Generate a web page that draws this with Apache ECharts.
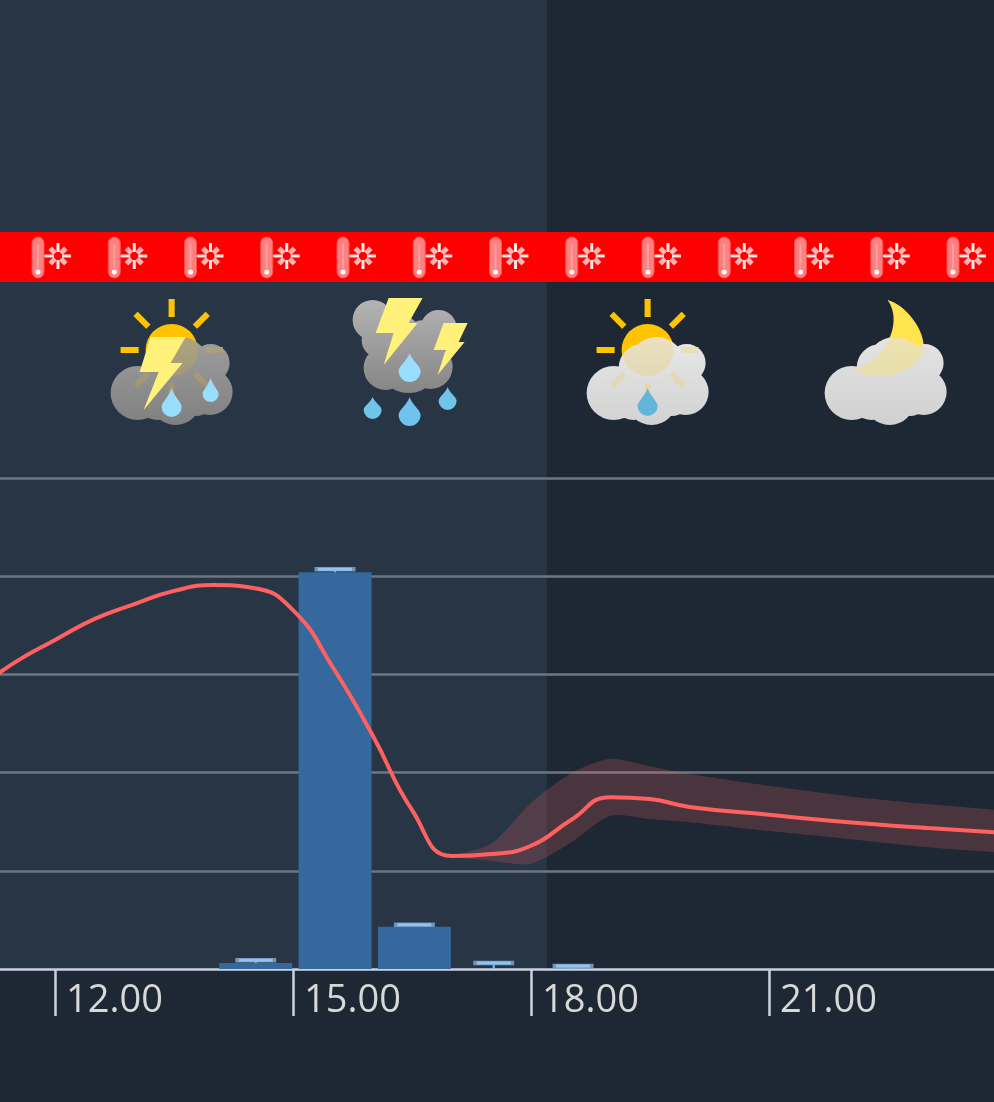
<!DOCTYPE html>
<html>
<head>
<meta charset="utf-8">
<style>
  html, body { margin: 0; padding: 0; background: #1d2834; }
  #chart { width: 994px; height: 1102px; }
</style>
<script src="https://cdn.jsdelivr.net/npm/echarts@6/dist/echarts.min.js"></script>
</head>
<body>
<div id="chart"></div>
<script>
// Hourly forecast: temperature (°C), its uncertainty band, precipitation (mm) and sky symbols.
const tempHours = [11, 11.5, 12, 12.5, 13, 13.5, 14, 14.5, 15, 15.5, 16, 16.5, 17, 17.5, 18, 18.5, 19, 19.5, 20, 21, 22, 23, 24];
const tempValues = [23.68, 24.25, 24.70, 25.13, 25.43, 25.70, 25.82, 25.76, 25.31, 24.15, 22.77, 21.24, 20.30, 20.34, 20.51, 21.03, 21.50, 21.46, 21.30, 21.14, 20.99, 20.87, 20.77];

const bandHours = [17, 17.5, 18, 18.5, 19, 19.5, 20, 21, 22, 23, 24, 25];
const bandHigh = [20.30, 20.55, 21.38, 21.98, 22.28, 22.13, 21.97, 21.73, 21.52, 21.36, 21.22, 21.10];
const bandLow = [20.28, 20.20, 20.14, 20.57, 21.12, 21.05, 20.99, 20.81, 20.65, 20.48, 20.36, 20.24];

const rainHours = [14.53, 15.53, 16.53, 17.53, 18.53];
const rainValues = [0.06, 4.04, 0.43, 0, 0];
const rainMax = [0.09, 4.07, 0.45, 0.06, 0.03];

const symbolHours = [13.47, 16.47, 19.47, 22.47];
const symbolNames = ['sunThunder', 'heavyThunder', 'sunRain', 'moonCloud'];

const dayEndHour = 18.2;
const warningCount = 13;

const COLORS = {
  night: '#1d2834', day: '#273545', grid: '#6e7682', axis: '#c9d1e2', label: '#d6d9d6',
  bar: '#35689c', cap: '#8fc4f5', line: '#ff6060', band: 'rgba(255,100,100,0.2)',
  sun: '#ffc400', bolt: '#fff17a', drop: '#99ddff', dropDark: '#70c3ea', dropMid: '#62b6dc', moon: '#ffe34f'
};

function circlePath(cx, cy, r) {
  return 'M' + (cx - r) + ' ' + cy + 'a' + r + ' ' + r + ' 0 1 0 ' + (2 * r) + ' 0a' + r + ' ' + r + ' 0 1 0 ' + (-2 * r) + ' 0Z';
}
function cloud(circles, top, bottom) {
  return {
    type: 'path',
    shape: { pathData: circles.map(c => circlePath(c[0], c[1], c[2])).join('') },
    style: { fill: { type: 'linear', x: 0, y: 0, x2: 0, y2: 1, colorStops: [{ offset: 0, color: top }, { offset: 1, color: bottom }] } }
  };
}
function bolt(points) {
  return { type: 'polygon', shape: { points: points }, style: { fill: COLORS.bolt } };
}
// Teardrop with its point at (cx, top) and a round belly whose lowest point is at bottom.
function drop(cx, top, bottom, r, color) {
  const cy = bottom - r;
  const d = 'M' + cx + ' ' + top +
    'C' + (cx + r * 0.25) + ' ' + (top + (cy - top) * 0.45) + ' ' + (cx + r) + ' ' + (cy - r * 0.45) + ' ' + (cx + r) + ' ' + cy +
    'A' + r + ' ' + r + ' 0 1 1 ' + (cx - r) + ' ' + cy +
    'C' + (cx - r) + ' ' + (cy - r * 0.45) + ' ' + (cx - r * 0.25) + ' ' + (top + (cy - top) * 0.45) + ' ' + cx + ' ' + top + 'Z';
  return { type: 'path', shape: { pathData: d }, style: { fill: color } };
}
// Sun with eight rays; the opacity lets the same shape glow faintly through a cloud.
function sun(opacity) {
  const cy = -10, parts = [];
  for (let i = 0; i < 8; i++) {
    const a = i * Math.PI / 4, c = Math.cos(a), s = Math.sin(a);
    parts.push({ type: 'line', shape: { x1: 33 * c, y1: cy + 33 * s, x2: 51 * c, y2: cy + 51 * s }, style: { stroke: COLORS.sun, lineWidth: 6, opacity: opacity } });
  }
  parts.push({ type: 'circle', shape: { cx: 0, cy: cy, r: 26 }, style: { fill: COLORS.sun, opacity: opacity } });
  return parts;
}
function moon(opacity) {
  return { type: 'path', shape: { pathData: 'M2 -60C20 -55 40 -30 38 -10C35 10 -5 25 -32 10C-5 5 20 -35 2 -60Z' }, style: { fill: COLORS.moon, opacity: opacity } };
}
const cloudShape = [[-34, 33, 27], [38, 32, 23], [39, 3, 19], [9, 5, 28], [4, 40, 25], [-5, 8, 24], [-5, 25, 30], [-14, 38, 22], [24, 36, 20]];
const stormShape = [[-37, -40, 20], [-30, -20, 18], [29, -32, 18], [-1, 0, 33], [-24, 8, 22], [21, 7, 22], [-12, -22, 24], [14, -18, 22]];

const symbolDrawers = {
  sunThunder: () => sun(1).concat([cloud(cloudShape, '#9e9e9e', '#808080')], sun(0.18), [
    bolt([[-21, -23], [14, -23], [-1, 3], [11, 3], [-28, 50], [-13, 12], [-32, 12]]),
    drop(0, 28, 57, 10, COLORS.drop),
    drop(39, 18, 42, 8, COLORS.drop)
  ]),
  heavyThunder: () => [
    cloud(stormShape, '#b4b4b4', '#858585'),
    bolt([[-21, -62], [13, -62], [-1, -37], [8, -37], [-26, 5], [-16, -27], [-34, -27]]),
    bolt([[34, -37], [58, -37], [49, -18], [55, -18], [28, 15], [36, -10], [24, -10]]),
    drop(0, -7, 22, 11, COLORS.drop),
    drop(-37, 37, 59, 9, COLORS.dropDark),
    drop(0, 37, 66, 11, COLORS.dropDark),
    drop(38, 27, 50, 9, COLORS.dropDark)
  ],
  sunRain: () => sun(1).concat([cloud(cloudShape, '#e8e8e8', '#d2d2d2')], sun(0.18), [
    drop(0, 28, 56, 10, COLORS.dropMid)
  ]),
  moonCloud: () => [moon(1), cloud(cloudShape, '#e4e4e4', '#d0d0d0'), moon(0.35)]
};

// Row of warning badges along the red strip, one thermometer and one snow crystal each.
function warningBadges() {
  const items = [{ type: 'rect', shape: { x: 0, y: 232, width: 994, height: 50 }, style: { fill: '#ff0000' }, z: 10 }];
  for (let i = 0; i < warningCount; i++) {
    const x = 38 + i * 76.25, sx = x + 20, sy = 256;
    items.push({ type: 'rect', shape: { x: x - 6, y: 237, width: 12, height: 41, r: 6 }, style: { fill: '#ff8080', stroke: '#ff5050', lineWidth: 1 }, z: 11 });
    items.push({ type: 'line', shape: { x1: x, y1: 244, x2: x, y2: 268 }, style: { stroke: '#ff9c9c', lineWidth: 2 }, z: 11 });
    items.push({ type: 'circle', shape: { cx: x, cy: 272, r: 2.5 }, style: { fill: '#ffffff' }, z: 11 });
    items.push({ type: 'line', shape: { x1: x + 6, y1: sy, x2: sx - 8, y2: sy }, style: { stroke: '#ff9c9c', lineWidth: 2 }, z: 11 });
    for (let k = 0; k < 8; k++) {
      const a = k * Math.PI / 4, r = k % 2 ? 11 : 13;
      items.push({
        type: 'line',
        shape: { x1: sx + 4 * Math.cos(a), y1: sy + 4 * Math.sin(a), x2: sx + r * Math.cos(a), y2: sy + r * Math.sin(a) },
        style: { stroke: k % 2 ? '#ffb4b4' : '#ffe8e8', lineWidth: k % 2 ? 5 : 3 }, z: 11
      });
    }
  }
  return items;
}

const chart = echarts.init(document.getElementById('chart'), null, { renderer: 'canvas' });

chart.setOption({
  animation: false,
  backgroundColor: COLORS.night,
  graphic: { elements: warningBadges() },
  // The plot runs past both page edges, so the axis range is wider than what is seen.
  grid: { left: -183, right: -13, top: 478, bottom: 133, containLabel: false, outerBoundsMode: 'none' },
  xAxis: {
    type: 'value', min: 9, max: 24, interval: 3,
    axisLine: { show: true, lineStyle: { color: COLORS.axis, width: 2.5 } },
    axisTick: { show: true, length: 47, lineStyle: { color: COLORS.axis, width: 2.5 } },
    splitLine: { show: false },
    axisLabel: {
      show: true, showMinLabel: false, showMaxLabel: false,
      align: 'left', margin: 13, padding: [0, 0, 0, 11],
      fontFamily: 'Open Sans', fontSize: 38, color: COLORS.label,
      formatter: v => String(v).padStart(2, '0') + '.00'
    }
  },
  yAxis: [
    {
      type: 'value', min: 18, max: 28, interval: 2,
      axisLine: { show: false }, axisTick: { show: false }, axisLabel: { show: false },
      splitLine: { show: true, showMinLine: false, lineStyle: { color: COLORS.grid, width: 2.5 } }
    },
    {
      type: 'value', min: 0, max: 5, interval: 1,
      axisLine: { show: false }, axisTick: { show: false }, axisLabel: { show: false },
      splitLine: { show: false }
    }
  ],
  series: [
    {
      // Daylight band reaching from the left edge up to the top of the page.
      type: 'custom', z: -1, silent: true, data: [[dayEndHour, 18]],
      renderItem: (params, api) => {
        const p = api.coord([api.value(0), api.value(1)]);
        return { type: 'rect', shape: { x: 0, y: 0, width: p[0], height: p[1] }, style: { fill: COLORS.day } };
      }
    },
    {
      type: 'bar', yAxisIndex: 1, barWidth: 73, z: 2, silent: true,
      itemStyle: { color: COLORS.bar },
      data: rainHours.map((h, i) => [h, rainValues[i]])
    },
    {
      // Upper error whisker of each precipitation bar.
      type: 'custom', yAxisIndex: 1, z: 3, silent: true,
      data: rainHours.map((h, i) => [h, rainValues[i], rainMax[i]]),
      renderItem: (params, api) => {
        const lo = api.coord([api.value(0), api.value(1)]);
        const hi = api.coord([api.value(0), api.value(2)]);
        return {
          type: 'group',
          children: [
            { type: 'line', shape: { x1: lo[0], y1: lo[1], x2: hi[0], y2: hi[1] }, style: { stroke: COLORS.cap, lineWidth: 2 } },
            { type: 'line', shape: { x1: hi[0] - 20.5, y1: hi[1], x2: hi[0] + 20.5, y2: hi[1] }, style: { stroke: '#6f93b8', lineWidth: 4.5 } },
            { type: 'line', shape: { x1: hi[0] - 17, y1: hi[1], x2: hi[0] + 17, y2: hi[1] }, style: { stroke: COLORS.cap, lineWidth: 3 } }
          ]
        };
      }
    },
    {
      // Temperature uncertainty band, drawn as one closed outline.
      type: 'custom', z: 3, silent: true,
      data: bandHours.map((h, i) => [h, bandLow[i], bandHigh[i]]),
      renderItem: (params, api) => {
        if (params.dataIndex !== 0) return null;
        const upper = bandHours.map((h, i) => api.coord([h, bandHigh[i]]));
        const lower = bandHours.map((h, i) => api.coord([h, bandLow[i]])).reverse();
        return { type: 'polygon', shape: { points: upper.concat(lower), smooth: 0.25 }, style: { fill: COLORS.band } };
      }
    },
    {
      type: 'line', z: 4, silent: true, showSymbol: false, smooth: 0.5,
      lineStyle: { color: COLORS.line, width: 4 },
      data: tempHours.map((h, i) => [h, tempValues[i]])
    },
    {
      // Sky symbols, one every three hours, on a fixed row above the plot.
      type: 'custom', z: 5, silent: true,
      data: symbolHours.map(h => [h, 18]),
      renderItem: (params, api) => {
        const p = api.coord([api.value(0), api.value(1)]);
        return { type: 'group', x: p[0], y: 360, children: symbolDrawers[symbolNames[params.dataIndex]]() };
      }
    }
  ]
});
</script>
</body>
</html>
